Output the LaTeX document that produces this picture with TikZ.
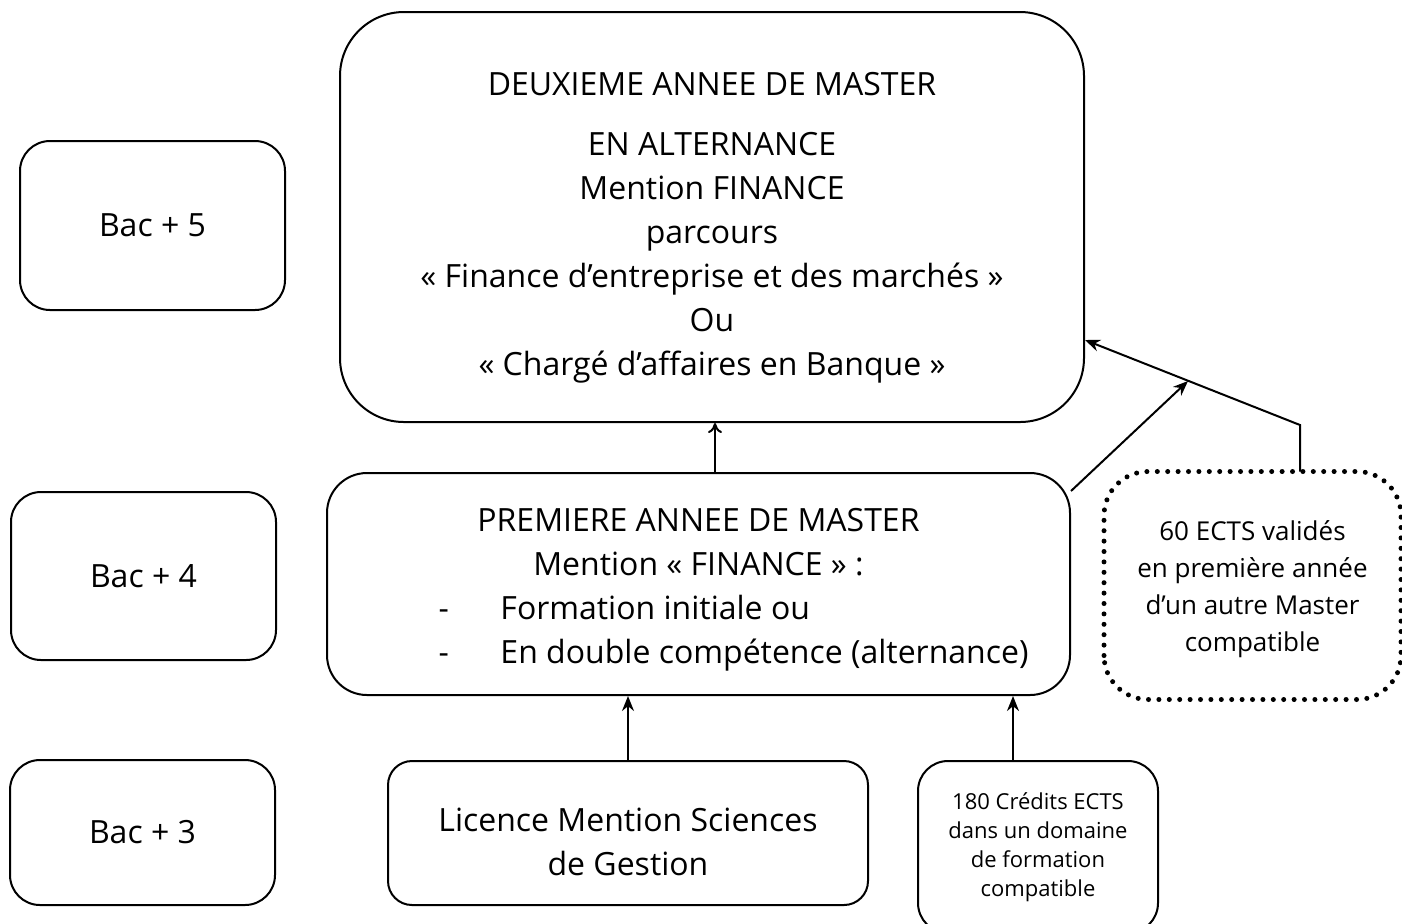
\documentclass[tikz,border=0pt]{standalone}
\usepackage{fontspec}
\setmainfont{Open Sans}
\usetikzlibrary{arrows.meta}
\tikzstyle{every node}=[draw=black,shape=rectangle,align=center,inner sep=0pt]
\tikzstyle{level}=[rounded corners=15pt,minimum width=132.5pt,font=\fontsize{16}{22}\selectfont]
\tikzstyle{small}=[rounded corners=15pt,font=\fontsize{11}{14.5}\selectfont]
\tikzstyle{dots}=[line width=2.5pt,line cap=round,dash pattern=on 0pt off 5.2pt]
\tikzstyle{tip}=[-{Stealth[length=7.5pt,width=6pt]}]
\newcommand{\puce}[1]{\hspace*{30pt}\makebox[290pt][l]{\makebox[31pt][l]{-}#1}}

\begin{document}
\begin{tikzpicture}[x=0.5pt, y=-0.5pt, line width=1pt]
\useasboundingbox (0,0) rectangle (1402,923);
\node[level, minimum height=84.5pt] (bac5) at (152.5,225.5) {Bac + 5};
\node[level, minimum height=84pt] (bac4) at (143.5,576) {Bac + 4};
\node[level, minimum height=72.5pt] (bac3) at (142.5,832.5) {Bac + 3};
\node[level, rounded corners=32pt, minimum width=372pt, minimum height=205pt] (m2) at (712,217)
	{\rule{0pt}{22pt}DEUXIEME ANNEE DE MASTER\\[8pt] EN ALTERNANCE\\ Mention FINANCE\\ parcours\\
	« Finance d’entreprise et des marchés »\\ Ou\\ « Chargé d’affaires en Banque »};
\node[level, rounded corners=20pt, minimum width=371.5pt, minimum height=111pt] (m1) at (698.5,584)
	{\rule{0pt}{17.5pt}PREMIERE ANNEE DE MASTER\\ Mention « FINANCE » :\\
	\puce{Formation initiale ou}\\
	\puce{En double compétence (alternance)}};
\node[level, rounded corners=12pt, minimum width=240pt, minimum height=72pt] (lic) at (628,833)
	{\rule{0pt}{20.5pt}Licence Mention Sciences\\ de Gestion};
\node[small, minimum width=120pt, minimum height=86pt] (ects) at (1038,847)
	{180 Crédits ECTS\\ dans un domaine\\ de formation\\ compatible};
\node[small, draw=none, rounded corners=22pt, minimum width=147.5pt, minimum height=113pt,
	font=\fontsize{13}{18.5}\selectfont] (autre) at (1252.5,585.5)
	{\rule{0pt}{14pt}60 ECTS validés\\ en première année\\ d’un autre Master\\ compatible};
\draw[dots, rounded corners=22pt] (autre.south west) rectangle (autre.north east);
\coordinate (coude) at (1300,425);
\coordinate (jonction) at (1188,381);
\draw[-{To[length=5pt,width=7pt]}] (715,0 |- m1.north) -- (715,0 |- m2.south);
\draw[tip] (lic.north) -- (lic.north |- m1.south);
\draw[tip] (1013,0 |- ects.north) -- (1013,0 |- m1.south);
\draw[tip] ([yshift=-9.5pt]m1.north east) -- (jonction);
\draw[tip] (1300,0 |- autre.north) -- (coude) -- (m2.east |- 0,340);
\end{tikzpicture}
\end{document}
